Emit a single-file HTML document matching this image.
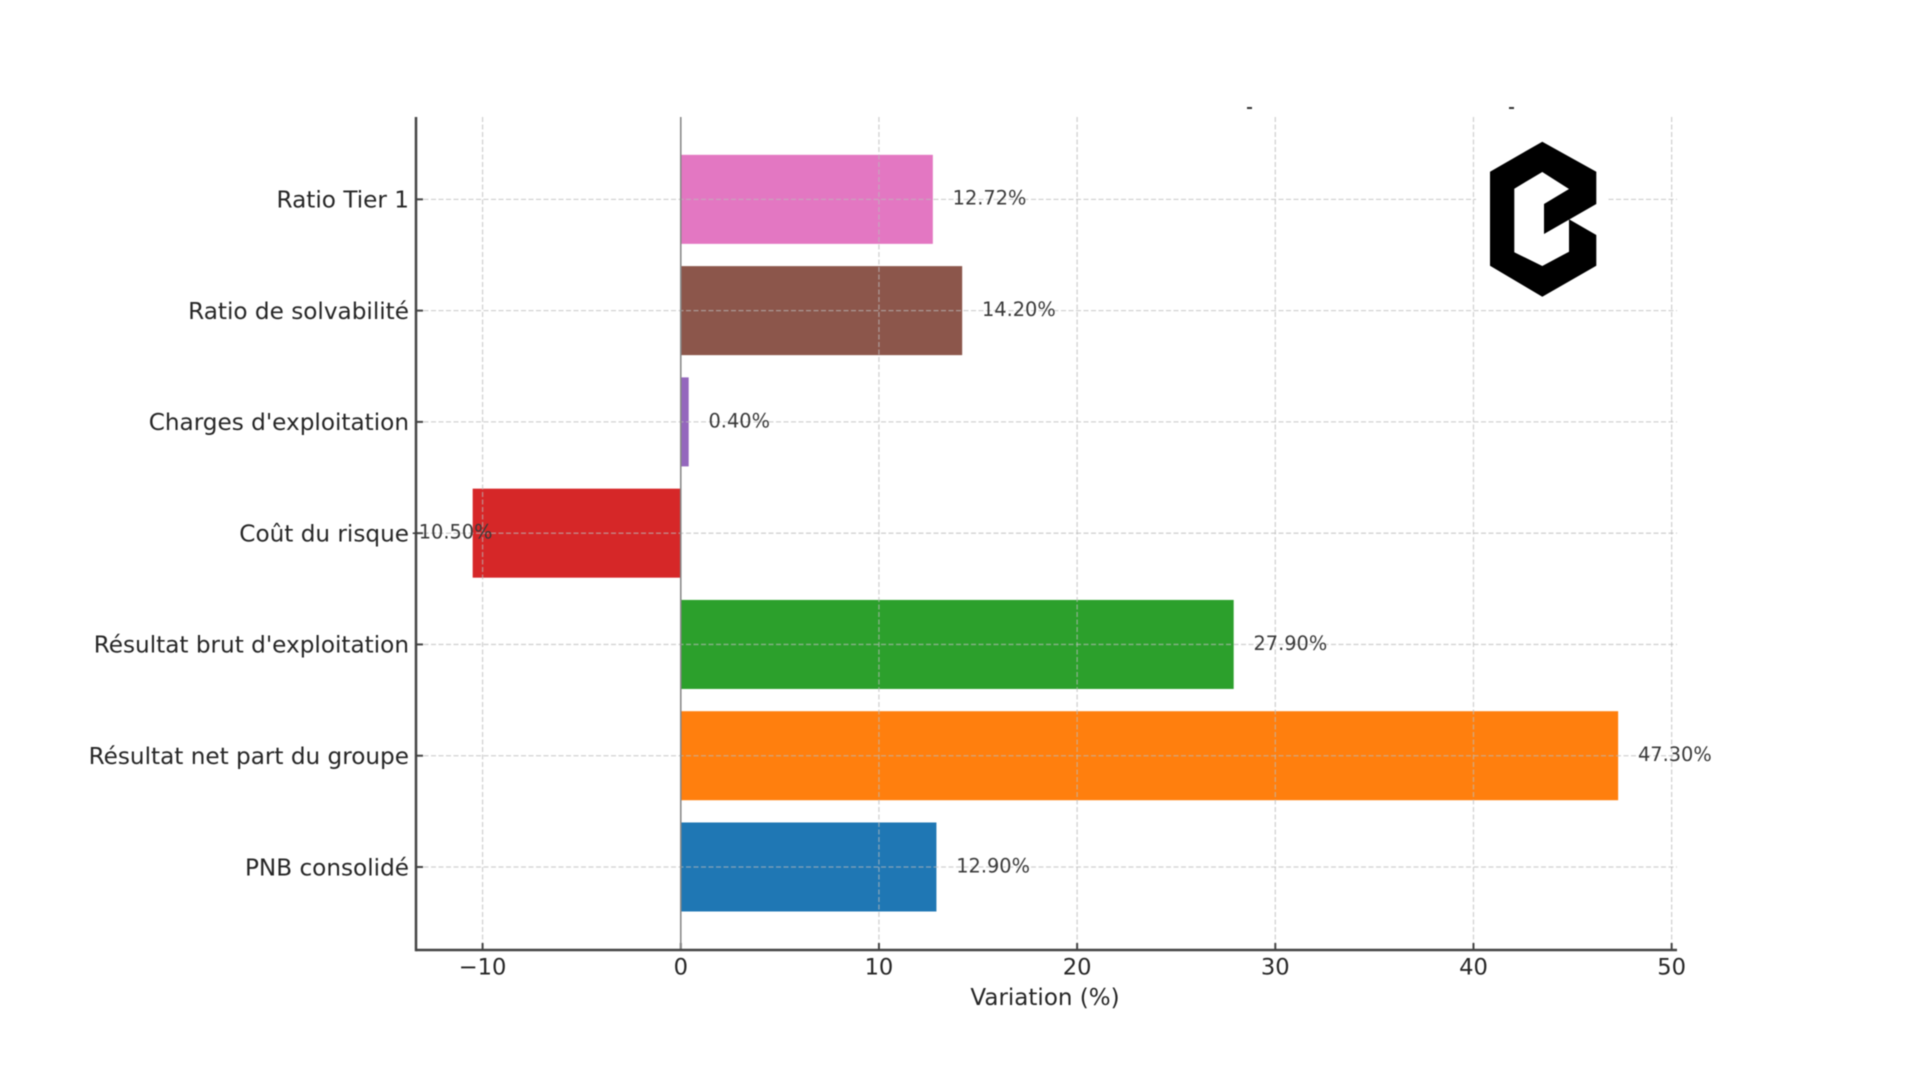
<!DOCTYPE html>
<html lang="fr">
<head>
<meta charset="utf-8">
<title>Variation (%)</title>
<style>
  html, body { margin: 0; padding: 0; background: #fff; width: 1920px; height: 1080px; overflow: hidden; }
  svg { display: block; filter: blur(0.5px); }
  text { font-family: "DejaVu Sans", "Liberation Sans", sans-serif; fill: #262626; }
  .cat-label { font-size: 23.15px; text-anchor: end; }
  .x-label { font-size: 22.6px; text-anchor: middle; }
  .axis-title { font-size: 23px; text-anchor: middle; }
  .value-label { font-size: 19.35px; fill: #3a3a3a; }
  .grid { stroke: #bbb; stroke-width: 1.3; stroke-dasharray: 5 2.5; opacity: .65; }
  .spine { stroke: #444; stroke-width: 2.5; }
  .tick { stroke: #444; stroke-width: 2; }
  .zero-line { stroke: #888; stroke-width: 1.6; }
  .series-0 { fill: #1f77b4; }
  .series-1 { fill: #ff7f0e; }
  .series-2 { fill: #2ca02c; }
  .series-3 { fill: #d62728; }
  .series-4 { fill: #9467bd; }
  .series-5 { fill: #8c564b; }
  .series-6 { fill: #e377c2; }
</style>
</head>
<body>
<svg id="chart" xmlns="http://www.w3.org/2000/svg" width="1920" height="1080" viewBox="0 0 1920 1080">
  <rect width="1920" height="1080" fill="#fff"/>
  <g id="bars"></g>
  <g id="grid"></g>
  <g id="axes"></g>
  <g id="labels"></g>
  <rect x="1247" y="107" width="5" height="2" fill="#333"/>
  <rect x="1509" y="107" width="5" height="2" fill="#333"/>
  <g>
    <rect x="1476" y="130" width="131" height="175" fill="#fff"/>
    <polygon fill="#000" points="1542.3,141.7 1596.3,171.7 1596.3,204 1544,234 1544,204 1569,189 1542.3,172 1514.3,188.7 1514.3,252.3 1542.3,266 1569,251.7 1569,219.3 1596.3,235 1596.3,265.7 1542.3,296.7 1490,265.7 1490,171.7"/>
  </g>
</svg>
<script>
const categories = ["PNB consolidé", "Résultat net part du groupe", "Résultat brut d'exploitation", "Coût du risque", "Charges d'exploitation", "Ratio de solvabilité", "Ratio Tier 1"];
const seriesValues = [12.9, 47.3, 27.9, -10.5, 0.4, 14.2, 12.72];
const xTicks = [-10, 0, 10, 20, 30, 40, 50];
const axisTitle = "Variation (%)";

const plotLeft = 416, plotRight = 1677, plotTop = 117, plotBottom = 950;
const xDomainMin = -13.36, xDomainMax = 50.27;
const yDomainMin = -0.746, yDomainMax = 6.74;
const barThickness = 0.8;
const labelGap = 1;
const ns = "http://www.w3.org/2000/svg";

function xScale(v) {
  return plotLeft + (v - xDomainMin) / (xDomainMax - xDomainMin) * (plotRight - plotLeft);
}
function yScale(i) {
  return plotBottom - (i - yDomainMin) / (yDomainMax - yDomainMin) * (plotBottom - plotTop);
}
function make(tag, parent, attrs, text) {
  const el = document.createElementNS(ns, tag);
  for (const k in attrs) el.setAttribute(k, attrs[k]);
  if (text !== undefined) el.textContent = text;
  parent.appendChild(el);
  return el;
}
function slug(s) {
  return s.normalize("NFD").replace(/[\u0300-\u036f]/g, "").toLowerCase().replace(/[^a-z0-9]+/g, "-");
}

const barsG = document.getElementById("bars");
const gridG = document.getElementById("grid");
const axesG = document.getElementById("axes");
const labelsG = document.getElementById("labels");

categories.forEach(function (cat, i) {
  const v = seriesValues[i];
  const top = yScale(i + barThickness / 2);
  const bottom = yScale(i - barThickness / 2);
  const bar = make("rect", barsG, {
    x: Math.min(xScale(0), xScale(v)),
    y: top,
    width: Math.abs(xScale(v) - xScale(0)),
    height: bottom - top,
    class: "series-" + i
  });
  
  

  const hLine = make("line", gridG, { x1: plotLeft, x2: plotRight, y1: yScale(i), y2: yScale(i), class: "grid" });
  
  

  const tick = make("line", axesG, { x1: plotLeft, x2: plotLeft + 7, y1: yScale(i), y2: yScale(i), class: "tick" });
  
  

  const catLabel = make("text", axesG, { x: plotLeft - 7, y: yScale(i) + 8.3, class: "cat-label" }, cat);
  
  

  const valueLabel = make("text", labelsG, {
    x: xScale(v + labelGap),
    y: yScale(i) + 5.4,
    class: "value-label",
    "text-anchor": v < 0 ? "end" : "start"
  }, v.toFixed(2) + "%");
  
  
});

xTicks.forEach(function (t) {
  const vLine = make("line", gridG, { x1: xScale(t), x2: xScale(t), y1: plotTop, y2: plotBottom, class: "grid" });
  
  

  const tick = make("line", axesG, { x1: xScale(t), x2: xScale(t), y1: plotBottom, y2: plotBottom - 7, class: "tick" });
  
  

  const label = make("text", axesG, { x: xScale(t), y: plotBottom + 24.5, class: "x-label" }, String(t).replace("-", "\u2212"));
  
  
});

const zeroLine = make("line", axesG, { x1: xScale(0), x2: xScale(0), y1: plotTop, y2: plotBottom, class: "zero-line" });



const leftSpine = make("line", axesG, { x1: plotLeft, x2: plotLeft, y1: plotTop, y2: plotBottom + 1.2, class: "spine" });



const bottomSpine = make("line", axesG, { x1: plotLeft, x2: plotRight, y1: plotBottom, y2: plotBottom, class: "spine" });



const title = make("text", axesG, { x: (plotLeft + plotRight) / 2 - 1.5, y: 1005, class: "axis-title" }, axisTitle);


</script>
</body>
</html>
